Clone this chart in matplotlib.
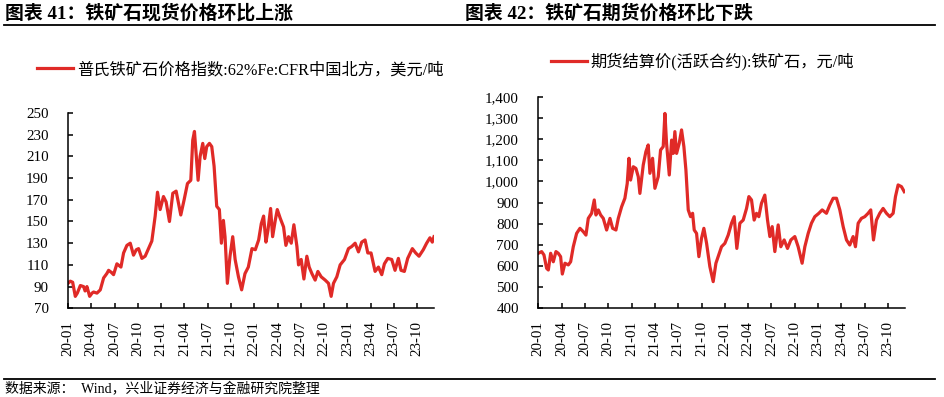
import matplotlib
matplotlib.use("Agg")
import matplotlib.pyplot as plt
from matplotlib.lines import Line2D
from matplotlib.ticker import FuncFormatter, FixedLocator

plt.rcParams['font.family'] = ['Liberation Serif', 'Noto Sans CJK SC', 'DejaVu Sans']

# ---------------- data ----------------
# x positions are month index since 2020-01 (fractional = within month)
tick_labels = ["20-01", "20-04", "20-07", "20-10", "21-01", "21-04", "21-07", "21-10",
               "22-01", "22-04", "22-07", "22-10", "23-01", "23-04", "23-07", "23-10"]
tick_months = [0, 3, 6, 9, 12, 15, 18, 21, 24, 27, 30, 33, 36, 39, 42, 45]

spot_t = [0.0, 0.3, 0.6, 0.94, 1.2, 1.59, 2.01, 2.2, 2.44, 2.79, 3.1, 3.3, 3.73, 4.16, 4.59,
          5.0, 5.23, 5.6, 5.87, 6.3, 6.82, 7.16, 7.59, 8.02, 8.44, 8.8, 9.09, 9.52, 9.94,
          10.37, 10.8, 11.23, 11.53, 11.87, 12.3, 12.64, 13.07, 13.5, 13.93, 14.23, 14.53,
          14.96, 15.39, 15.82, 16.07, 16.29, 16.5, 16.76, 17.02, 17.36, 17.62, 17.87, 18.22,
          18.52, 18.82, 19.16, 19.5, 19.76, 20.02, 20.23, 20.53, 20.87, 21.22, 21.53, 21.96,
          22.37, 22.8, 23.23, 23.7, 24.13, 24.56, 24.9, 25.2, 25.5, 25.76, 26.1, 26.36, 26.7,
          26.96, 27.34, 27.77, 28.07, 28.41, 28.76, 29.1, 29.49, 29.7, 30.04, 30.39, 30.77,
          31.07, 31.42, 31.84, 32.19, 32.62, 33.13, 33.56, 33.9, 34.2, 34.63, 35.06, 35.62,
          36.13, 36.56, 36.99, 37.42, 37.84, 38.27, 38.62, 39.04, 39.56, 39.99, 40.42, 40.76,
          41.19, 41.7, 42.13, 42.56, 42.9, 43.33, 43.76, 44.36, 44.79, 45.22, 45.77, 46.2,
          46.63, 46.93, 47.15]
spot_v = [93, 95, 94, 81, 84, 91, 90, 86, 90, 81, 84, 85, 84, 87, 98,
          102, 105, 103, 101, 111, 108, 121, 128, 130, 119, 124, 125, 116, 118,
          125, 132, 155, 177, 161, 173, 168, 150, 176, 178, 167, 156,
          170, 185, 188, 225, 233, 213, 188, 210, 222, 208, 219, 222,
          219, 201, 164, 161, 130, 151, 136, 93, 118, 136, 115, 99,
          87, 102, 108, 125, 124, 133, 148, 155, 131, 142, 162, 136, 151,
          161, 153, 145, 128, 136, 130, 147, 127, 110, 115, 97, 118,
          108, 102, 96, 104, 99, 96, 93, 81, 93, 99, 110, 115,
          125, 127, 130, 122, 131, 133, 121, 121, 104, 108, 101, 111,
          116, 115, 105, 116, 105, 104, 116, 125, 121, 118, 124, 130,
          135, 131, 136]

fut_t = [0.0, 0.43, 0.73, 1.07, 1.29, 1.59, 1.93, 2.27, 2.57, 2.87, 3.09, 3.43, 3.86, 4.16,
         4.5, 4.93, 5.36, 5.79, 6.13, 6.43, 6.86, 7.2, 7.42, 7.72, 8.02, 8.36, 8.79, 9.22,
         9.56, 9.99, 10.29, 10.72, 11.14, 11.44, 11.66, 11.87, 12.22, 12.56, 12.86, 13.07,
         13.5, 13.84, 14.14, 14.36, 14.7, 15.0, 15.43, 15.73, 16.07, 16.29, 16.5, 16.85,
         17.15, 17.36, 17.57, 17.79, 18.13, 18.43, 18.73, 18.99, 19.29, 19.59, 19.85, 20.06,
         20.36, 20.66, 21.0, 21.3, 21.65, 22.07, 22.5, 22.85, 23.14, 23.57, 24.0, 24.43,
         24.86, 25.2, 25.54, 25.93, 26.36, 26.79, 27.09, 27.43, 27.77, 28.07, 28.37, 28.71,
         29.14, 29.49, 29.79, 30.09, 30.43, 30.86, 31.2, 31.63, 32.06, 32.49, 33.0, 33.43,
         33.94, 34.29, 34.72, 35.14, 35.57, 36.09, 36.52, 37.07, 37.5, 37.93, 38.36, 38.79,
         39.22, 39.65, 40.07, 40.5, 40.8, 41.15, 41.57, 42.0, 42.43, 42.77, 43.12, 43.5,
         43.93, 44.36, 44.79, 45.22, 45.65, 45.95, 46.29, 46.72, 47.08]
fut_v = [660, 668, 652, 589, 581, 660, 620, 668, 660, 644, 562, 613, 605, 620,
         691, 754, 778, 762, 746, 825, 849, 912, 841, 865, 841, 825, 770, 825,
         778, 770, 825, 880, 920, 990, 1109, 1006, 1069, 1061, 1022, 943,
         1077, 1140, 1172, 1038, 1109, 967, 1022, 1148, 1164, 1321, 1180, 1030,
         1195, 1132, 1235, 1132, 1180, 1243, 1164, 1054, 865, 833, 849, 770,
         754, 644, 731, 778, 707, 597, 526, 613, 644, 691, 707, 746,
         802, 833, 683, 802, 817, 872, 928, 912, 817, 849, 833, 896,
         935, 817, 739, 786, 668, 794, 691, 723, 683, 723, 739, 691,
         613, 691, 754, 802, 833, 849, 865, 849, 888, 920, 920, 865,
         786, 723, 699, 739, 691, 802, 825, 833, 849, 865, 723, 817,
         849, 872, 849, 833, 849, 928, 983, 975, 951]

spot_label = "普氏铁矿石价格指数:62%Fe:CFR中国北方，美元/吨"
fut_label = "期货结算价(活跃合约):铁矿石，元/吨"
title_left = "图表 41：铁矿石现货价格环比上涨"
title_right = "图表 42：铁矿石期货价格环比下跌"
source_text = "数据来源：  Wind，兴业证券经济与金融研究院整理"
spot_yticks = [70, 90, 110, 130, 150, 170, 190, 210, 230, 250]
fut_yticks = [400, 500, 600, 700, 800, 900, 1000, 1100, 1200, 1300, 1400]

# ---------------- figure ----------------
W, H = 945, 397
fig = plt.figure(figsize=(W / 100, H / 100), dpi=100)
RED = '#E02A27'


def style(ax, yticks, fmt):
    for s in ['top', 'right']:
        ax.spines[s].set_visible(False)
    for s in ['left', 'bottom']:
        ax.spines[s].set_linewidth(1.1)
        ax.spines[s].set_color('black')
    ax.set_xlim(0, 47.15)
    ax.set_ylim(yticks[0], yticks[-1])
    ax.yaxis.set_major_locator(FixedLocator(yticks))
    ax.yaxis.set_major_formatter(FuncFormatter(fmt))
    ax.set_xticks(tick_months)
    ax.set_xticklabels(tick_labels, rotation=90)
    ax.tick_params(axis='both', direction='in', length=3.5, width=1.1, labelsize=10.8,
                   colors='black')
    ax.tick_params(axis='y', pad=14)
    ax.tick_params(axis='x', pad=9)
    for lab in ax.get_xticklabels() + ax.get_yticklabels():
        lab.set_family(['Liberation Serif'])


# left axes
ax1 = fig.add_axes([68 / W, (H - 308.3) / H, 366 / W, 195.3 / H])
l1, = ax1.plot(spot_t, spot_v, color=RED, lw=2.3, solid_joinstyle='round')
style(ax1, spot_yticks, lambda v, p: f"{int(v)}")
ax1.legend([l1], [spot_label], loc='center left', bbox_to_anchor=(37 / W, 1 - 70 / H),
           bbox_transform=fig.transFigure, frameon=False, fontsize=11.7,
           handlelength=2.2, handletextpad=0.25, borderpad=0, borderaxespad=0)

# right axes
ax2 = fig.add_axes([538.3 / W, (H - 308.3) / H, 366.5 / W, 211.6 / H])
l2, = ax2.plot(fut_t, fut_v, color=RED, lw=2.3, solid_joinstyle='round')
style(ax2, fut_yticks, lambda v, p: f"{int(v):,}")
ax2.legend([l2], [fut_label], loc='center left', bbox_to_anchor=(551 / W, 1 - 62 / H),
           bbox_transform=fig.transFigure, frameon=False, fontsize=11.7,
           handlelength=2.2, handletextpad=0.25, borderpad=0, borderaxespad=0)

# titles and rules
fig.text(5 / W, 1 - 13 / H, title_left, fontsize=13.6, fontweight='bold', va='center', ha='left')
fig.text(465 / W, 1 - 13 / H, title_right, fontsize=13.6, fontweight='bold', va='center', ha='left')
fig.add_artist(Line2D([4 / W, 935 / W], [1 - 25 / H, 1 - 25 / H], color='black', lw=1.3,
                      transform=fig.transFigure))
fig.add_artist(Line2D([4 / W, 935 / W], [1 - 379.3 / H, 1 - 379.3 / H], color='black', lw=1.3,
                      transform=fig.transFigure))
fig.text(5 / W, 1 - 389 / H, source_text, fontsize=10, va='center', ha='left')

fig.savefig("out.png", dpi=100)
